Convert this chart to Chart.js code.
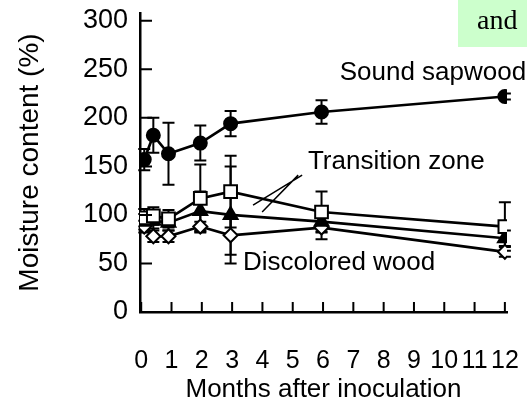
<!DOCTYPE html>
<html>
<head>
<meta charset="utf-8">
<script src="https://cdn.jsdelivr.net/npm/chart.js@4/dist/chart.umd.min.js"></script>
<style>
  html, body { margin: 0; padding: 0; background: #fff; }
  #wrap { width: 527px; height: 403px; }
</style>
</head>
<body>
<div id="wrap"><canvas id="myChart"></canvas></div>
<script>
"use strict"

// months after inoculation
const months = [0.1, 0.4, 0.9, 1.95, 2.95, 5.95, 12];

// moisture content (%) and error bars
const soundSapwood = [157, 182, 163, 174, 194, 206, 222];
const soundErr = [11, 18, 32, 18, 13, 12, 3];

const transitionSquares = [97, 99, 96, 117, 124, 103, 88];
const squaresErr = [9, 9, 9, 35, 37, 21, 25];

const transitionTriangles = [93, 94, 92, 104, 100, 93, 76];
const trianglesErr = [8, 8, 8, 20, 50, 10, 8];

const discoloredWood = [88, 78, 78, 88, 79, 87, 62];
const discoloredErr = [6, 6, 6, 5, 20, 12, 5];

const xTicks = [0, 1, 2, 3, 4, 5, 6, 7, 8, 9, 10, 11, 12];
const yTicks = [0, 50, 100, 150, 200, 250, 300];

// text labels, in data units (month, %)
const labels = [
    { text: "Sound sapwood", x: 6.55, y: 246 },
    { text: "Transition zone", x: 5.5, y: 155 },
    { text: "Discolored wood", x: 3.36, y: 50.5 }
];
// pointer lines from "Transition zone"
const pointers = [
    { x1: 5.31, y1: 141, x2: 3.69, y2: 110 },
    { x1: 5.18, y1: 141, x2: 3.99, y2: 103 }
];

const FONT = "'Liberation Sans', Arial, sans-serif";

function toPoints(values){
    return values.map((v, i) => ({ x: months[i], y: v }));
}

const errorBars = {
    id: "errorBars",
    beforeDatasetsDraw(chart){
        const ctx = chart.ctx;
        const yScale = chart.scales.y;
        ctx.save();
        ctx.strokeStyle = "#000";
        ctx.lineWidth = 2;
        chart.data.datasets.forEach((ds, di) => {
            const meta = chart.getDatasetMeta(di);
            meta.data.forEach((pt, i) => {
                const v = ds.data[i].y;
                const e = ds.errors[i];
                const top = yScale.getPixelForValue(v + e);
                const bot = yScale.getPixelForValue(v - e);
                ctx.beginPath();
                ctx.moveTo(pt.x, top);
                ctx.lineTo(pt.x, bot);
                ctx.moveTo(pt.x - 6, top);
                ctx.lineTo(pt.x + 6, top);
                ctx.moveTo(pt.x - 6, bot);
                ctx.lineTo(pt.x + 6, bot);
                ctx.stroke();
            });
        });
        ctx.restore();
    }
};

const decorations = {
    id: "decorations",
    afterDraw(chart){
        const ctx = chart.ctx;
        const xs = chart.scales.x;
        const ys = chart.scales.y;
        const area = chart.chartArea;
        ctx.save();

        // inward tick marks
        ctx.strokeStyle = "#000";
        ctx.lineWidth = 2;
        ctx.beginPath();
        xTicks.forEach(t => {
            const px = xs.getPixelForValue(t);
            ctx.moveTo(px, area.bottom);
            ctx.lineTo(px, area.bottom - 10);
        });
        yTicks.forEach(t => {
            const py = ys.getPixelForValue(t);
            ctx.moveTo(area.left, py);
            ctx.lineTo(area.left + 12, py);
        });
        ctx.stroke();

        // pointer lines
        ctx.lineWidth = 1.5;
        ctx.beginPath();
        pointers.forEach(p => {
            ctx.moveTo(xs.getPixelForValue(p.x1), ys.getPixelForValue(p.y1));
            ctx.lineTo(xs.getPixelForValue(p.x2), ys.getPixelForValue(p.y2));
        });
        ctx.stroke();

        // series labels
        ctx.fillStyle = "#000";
        ctx.font = "26px " + FONT;
        ctx.textAlign = "left";
        ctx.textBaseline = "middle";
        labels.forEach(l => {
            ctx.fillText(l.text, xs.getPixelForValue(l.x), ys.getPixelForValue(l.y));
        });

        // green highlight box top right
        ctx.fillStyle = "#ccffcc";
        ctx.fillRect(458, 0, 69, 47);
        ctx.fillStyle = "#000";
        ctx.font = "28px 'Liberation Serif', 'Times New Roman', serif";
        ctx.textBaseline = "alphabetic";
        ctx.fillText("and", 477, 29);

        ctx.restore();
    }
};

function makeDataset(values, errors, style, radius, fill){
    return {
        data: toPoints(values),
        errors: errors,
        borderColor: "#000",
        borderWidth: 2.7,
        pointStyle: style,
        pointRadius: radius,
        pointHoverRadius: radius,
        pointBorderWidth: 2,
        pointBorderColor: "#000",
        pointBackgroundColor: fill,
        tension: 0
    };
}

const ctx = document.getElementById("myChart").getContext("2d");
const myChart = new Chart(ctx, {
    type: "line",
    data: {
        datasets: [
            makeDataset(soundSapwood, soundErr, "circle", 6.5, "#000"),
            makeDataset(transitionSquares, squaresErr, "rect", 9, "#fff"),
            makeDataset(transitionTriangles, trianglesErr, "triangle", 8, "#000"),
            makeDataset(discoloredWood, discoloredErr, "rectRot", 7, "#fff")
        ]
    },
    options: {
        responsive: true,
        maintainAspectRatio: false,
        animation: false,
        events: [],
        layout: { padding: { left: 8, top: 13, right: 20, bottom: 0 } },
        plugins: {
            legend: { display: false },
            tooltip: { enabled: false }
        },
        scales: {
            x: {
                type: "linear",
                min: -0.04,
                max: 12.07,
                afterBuildTicks: scale => { scale.ticks = xTicks.map(v => ({ value: v })); },
                afterFit: scale => {
                    scale.height = 91;
                    scale.paddingLeft = 0;
                    scale.paddingRight = 0;
                },
                grid: { display: false, drawTicks: false },
                border: { display: true, color: "#000", width: 2.5 },
                ticks: {
                    autoSkip: false,
                    maxRotation: 0,
                    padding: 37,
                    color: "#000",
                    font: { family: FONT, size: 25, lineHeight: 1 }
                },
                title: {
                    display: true,
                    text: "Months after inoculation",
                    color: "#000",
                    font: { family: FONT, size: 26, lineHeight: 1 },
                    padding: { top: 5, bottom: 0 }
                }
            },
            y: {
                min: 0,
                max: 308,
                afterBuildTicks: scale => { scale.ticks = yTicks.map(v => ({ value: v })); },
                afterFit: scale => {
                    scale.width = 132;
                    scale.paddingTop = 0;
                    scale.paddingBottom = 0;
                },
                grid: { display: false, drawTicks: false },
                border: { display: true, color: "#000", width: 2.5 },
                ticks: {
                    autoSkip: false,
                    padding: 12,
                    color: "#000",
                    font: { family: FONT, size: 27, lineHeight: 1 }
                },
                title: {
                    display: true,
                    text: "Moisture content (%)",
                    color: "#000",
                    font: { family: FONT, size: 28, lineHeight: 1 },
                    padding: { top: 8, bottom: 28 }
                }
            }
        }
    },
    plugins: [errorBars, decorations]
});
console.log("chart drawn");
</script>
</body>
</html>
